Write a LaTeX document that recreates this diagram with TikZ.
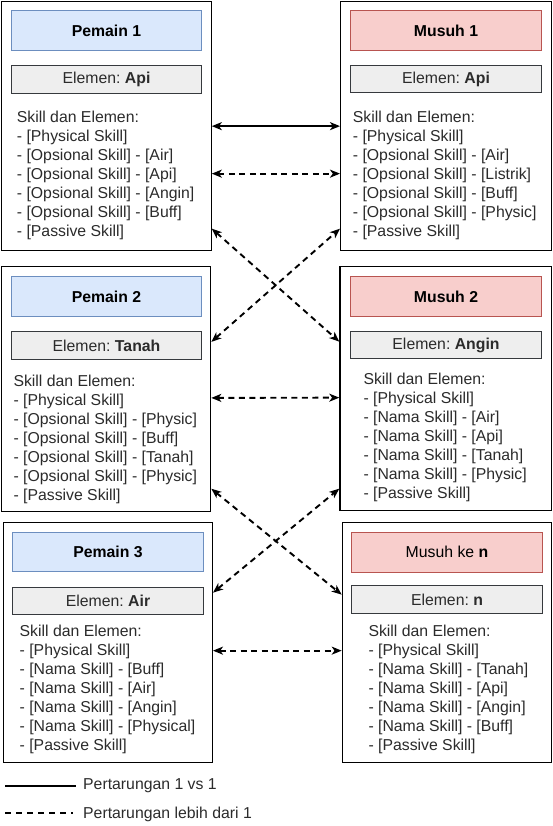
\documentclass[tikz,border=0pt]{standalone}
\usepackage{fontspec}
\setmainfont{Liberation Sans}
\usetikzlibrary{arrows.meta}
\frenchspacing
\definecolor{txtgray}{HTML}{2B2B2B}
\definecolor{pfill}{HTML}{DAE8FC}
\definecolor{pline}{HTML}{6C8EBF}
\definecolor{mfill}{HTML}{F8CECC}
\definecolor{mline}{HTML}{B85450}
\definecolor{efill}{HTML}{EEEEEE}
\definecolor{eline}{HTML}{36393D}
\tikzset{
  outerbox/.style={draw=black, line width=1.3pt, fill=white, anchor=north west, inner sep=0pt},
  hdrp/.style={draw=pline, fill=pfill, line width=1pt, anchor=north west, inner sep=0pt, font=\fontsize{15.8}{19}\selectfont, text=black},
  hdrm/.style={draw=mline, fill=mfill, line width=1pt, anchor=north west, inner sep=0pt, font=\fontsize{15.8}{19}\selectfont, text=black},
  elbox/.style={draw=eline, fill=efill, line width=1pt, anchor=north west, inner sep=0pt, font=\fontsize{15.8}{19}\selectfont, text=txtgray},
  skilltxt/.style={anchor=north west, inner sep=0pt, align=left, font=\fontsize{15.8}{19}\selectfont, text=txtgray},
  legtxt/.style={anchor=west, inner sep=0pt, font=\fontsize{15.8}{19}\selectfont, text=txtgray},
  arr/.style={line width=1.9pt, black, {Stealth[length=10pt,width=8pt,inset=2.8pt]}-{Stealth[length=10pt,width=8pt,inset=2.8pt]}},
  darr/.style={arr, dash pattern=on 6pt off 4.5pt},
  legline/.style={line width=1.9pt, black},
}
\begin{document}
\begin{tikzpicture}[x=1pt, y=-1pt]
\useasboundingbox (0,0) rectangle (553,826);

% ---------- Pemain 1 ----------
\node[outerbox, minimum width=209.5pt, minimum height=249pt] (p1) at (1,1) {};
\node[hdrp, minimum width=190pt, minimum height=40.5pt] (p1h) at (11,10) {\textbf{Pemain 1}};
\node[elbox, minimum width=190pt, minimum height=28pt] (p1e) at (11,65) {Elemen: \textbf{Api}};
\node[skilltxt] (p1t) at (16.7,110.4) {Skill dan Elemen:\\- [Physical Skill]\\- [Opsional Skill] - [Air]\\- [Opsional Skill] - [Api]\\- [Opsional Skill] - [Angin]\\- [Opsional Skill] - [Buff]\\- [Passive Skill]};

% ---------- Musuh 1 ----------
\node[outerbox, minimum width=211pt, minimum height=249pt] (m1) at (340,1) {};
\node[hdrm, minimum width=191pt, minimum height=40.5pt] (m1h) at (350,10) {\textbf{Musuh 1}};
\node[elbox, minimum width=191pt, minimum height=27.5pt] (m1e) at (350,65) {Elemen: \textbf{Api}};
\node[skilltxt] (m1t) at (352.7,110.4) {Skill dan Elemen:\\- [Physical Skill]\\- [Opsional Skill] - [Air]\\- [Opsional Skill] - [Listrik]\\- [Opsional Skill] - [Buff]\\- [Opsional Skill] - [Physic]\\- [Passive Skill]};

% ---------- Pemain 2 ----------
\node[outerbox, minimum width=209pt, minimum height=244.5pt] (p2) at (1,266) {};
\node[hdrp, minimum width=190pt, minimum height=40pt] (p2h) at (11,276) {\textbf{Pemain 2}};
\node[elbox, minimum width=190pt, minimum height=28pt] (p2e) at (11,331) {Elemen: \textbf{Tanah}};
\node[skilltxt] (p2t) at (13.3,374.7) {Skill dan Elemen:\\- [Physical Skill]\\- [Opsional Skill] - [Physic]\\- [Opsional Skill] - [Buff]\\- [Opsional Skill] - [Tanah]\\- [Opsional Skill] - [Physic]\\- [Passive Skill]};

% ---------- Musuh 2 ----------
\node[outerbox, minimum width=211.7pt, minimum height=244pt] (m2) at (339.3,266) {};
\node[hdrm, minimum width=191pt, minimum height=40pt] (m2h) at (350,276) {\textbf{Musuh 2}};
\node[elbox, minimum width=191pt, minimum height=27.6pt] (m2e) at (350,330.7) {Elemen: \textbf{Angin}};
\node[skilltxt] (m2t) at (363.3,373) {Skill dan Elemen:\\- [Physical Skill]\\- [Nama Skill] - [Air]\\- [Nama Skill] - [Api]\\- [Nama Skill] - [Tanah]\\- [Nama Skill] - [Physic]\\- [Passive Skill]};

% ---------- Pemain 3 ----------
\node[outerbox, minimum width=208.7pt, minimum height=239.8pt] (p3) at (3,521.7) {};
\node[hdrp, minimum width=190.4pt, minimum height=39.3pt] (p3h) at (12.3,531.7) {\textbf{Pemain 3}};
\node[elbox, minimum width=190.4pt, minimum height=27.6pt] (p3e) at (12.3,586.7) {Elemen: \textbf{Air}};
\node[skilltxt] (p3t) at (19.5,625.3) {Skill dan Elemen:\\- [Physical Skill]\\- [Nama Skill] - [Buff]\\- [Nama Skill] - [Air]\\- [Nama Skill] - [Angin]\\- [Nama Skill] - [Physical]\\- [Passive Skill]};

% ---------- Musuh ke n ----------
\node[outerbox, minimum width=209.3pt, minimum height=239.8pt] (mn) at (341.7,521.7) {};
\node[hdrm, minimum width=191pt, minimum height=40pt] (mnh) at (351,531.7) {Musuh ke \textbf{n}};
\node[elbox, minimum width=191pt, minimum height=28pt] (mne) at (351,585.3) {Elemen: \textbf{n}};
\node[skilltxt] (mnt) at (368.3,625.3) {Skill dan Elemen:\\- [Physical Skill]\\- [Nama Skill] - [Tanah]\\- [Nama Skill] - [Api]\\- [Nama Skill] - [Angin]\\- [Nama Skill] - [Buff]\\- [Passive Skill]};

% ---------- Connectors ----------
\draw[arr] (p1.east) -- (m1.west);
\draw[darr] ([yshift=-47.5pt]p1.east) -- ([yshift=-47.5pt]m1.west);
\draw[darr] ([yshift=-102.5pt]p1.east) -- ([yshift=47pt]m2.west);
\draw[darr] ([yshift=47pt]p2.east) -- ([yshift=-102.5pt]m1.west);
\draw[darr] ([yshift=-9pt]p2.east) -- ([yshift=-9pt]m2.west);
\draw[darr] ([yshift=-99.8pt]p2.east) -- ([yshift=47.6pt]mn.west);
\draw[darr] ([yshift=49.6pt]p3.east) -- ([yshift=-100pt]m2.west);
\draw[darr] ([yshift=-8.4pt]p3.east) -- ([yshift=-8.4pt]mn.west);

% ---------- Legend ----------
\coordinate (l1a) at (5,786);
\coordinate (l1b) at (76,786);
\coordinate (l2a) at (5,813);
\coordinate (l2b) at (73,813);
\draw[legline] (l1a) -- (l1b);
\draw[legline, dash pattern=on 6pt off 5pt] (l2a) -- (l2b);
\node[legtxt] (lt1) at (83,786) {Pertarungan 1 vs 1};
\node[legtxt] (lt2) at (83,814.5) {Pertarungan lebih dari 1};
\end{tikzpicture}
\end{document}
